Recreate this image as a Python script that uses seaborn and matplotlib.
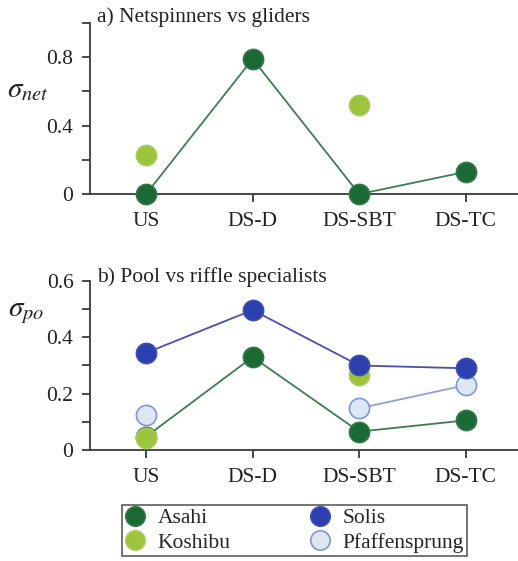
import matplotlib
matplotlib.use("Agg")
import matplotlib.pyplot as plt
from matplotlib.lines import Line2D
import seaborn as sns
import pandas as pd
import numpy as np

# sites along the river
sites = ["US", "DS-D", "DS-SBT", "DS-TC"]

# a) netspinners vs gliders
net_asahi = [0.0, 0.79, 0.0, 0.13]
net_koshibu = [0.23, np.nan, 0.52, np.nan]

# b) pool vs riffle specialists
po_asahi = [0.047, 0.33, 0.065, 0.105]
po_koshibu = [0.042, np.nan, 0.265, np.nan]
po_solis = [0.345, 0.497, 0.30, 0.29]
po_pfaff = [0.124, np.nan, 0.148, 0.23]
# Pfaffensprung line only joins the downstream sites
po_pfaff_line = [np.nan, np.nan, 0.148, 0.23]

colors = {
    "Asahi": "#1b6a35",
    "Koshibu": "#9cc43d",
    "Solis": "#2c3fae",
    "Pfaffensprung": "#dde6f3",
}
edges = {
    "Asahi": "#2f7a45",
    "Koshibu": "#a9cc55",
    "Solis": "#3c4fb8",
    "Pfaffensprung": "#7d98d2",
}
line_colors = {
    "Asahi": "#3f7d50",
    "Solis": "#4a4eb4",
    "Pfaffensprung": "#8aa2da",
}


def frame(values):
    df = pd.DataFrame({"site": sites, "x": range(len(sites)), "value": values})
    return df.dropna()


sns.set_style("ticks")
plt.rcParams["font.family"] = ["Liberation Serif", "DejaVu Serif"]
plt.rcParams["mathtext.fontset"] = "stix"

fig = plt.figure(figsize=(5.18, 5.61), dpi=100)
ax1 = fig.add_axes([0.174, 0.654, 0.826, 0.305])
ax2 = fig.add_axes([0.174, 0.198, 0.826, 0.301])

ms = 14.5
fs = 15.5


def points(ax, values, name, z):
    df = frame(values)
    sns.scatterplot(data=df, x="x", y="value", ax=ax, s=ms ** 2,
                    color=colors[name], edgecolor=edges[name], linewidth=1.2,
                    zorder=z, clip_on=False, legend=False)


def line(ax, values, name, z):
    df = frame(values)
    sns.lineplot(data=df, x="x", y="value", ax=ax, color=line_colors[name],
                 linewidth=1.3, zorder=z - 0.5, legend=False)


# panel a
line(ax1, net_asahi, "Asahi", 3)
points(ax1, net_asahi, "Asahi", 3)
points(ax1, net_koshibu, "Koshibu", 4)

# panel b
line(ax2, po_asahi, "Asahi", 3)
points(ax2, po_asahi, "Asahi", 3)
points(ax2, po_koshibu, "Koshibu", 4)
line(ax2, po_pfaff_line, "Pfaffensprung", 5)
points(ax2, po_pfaff, "Pfaffensprung", 5)
line(ax2, po_solis, "Solis", 6)
points(ax2, po_solis, "Solis", 6)

spine_col = "#3a3a3a"
for ax, ylim, major, minor in [
    (ax1, (0, 1.0), [0, 0.4, 0.8], [0.2, 0.6, 1.0]),
    (ax2, (0, 0.6), [0, 0.2, 0.4, 0.6], [0.1, 0.3, 0.5]),
]:
    ax.set_xlim(-0.525, 3.49)
    ax.set_ylim(*ylim)
    ax.set_xticks(range(len(sites)))
    ax.set_xticklabels(sites)
    ax.set_yticks(major)
    ax.set_yticklabels(["0" if v == 0 else f"{v:.1f}" for v in major])
    ax.set_yticks(minor, minor=True)
    ax.set_xlabel("")
    ax.set_ylabel("")
    sns.despine(ax=ax)
    for s in ["left", "bottom"]:
        ax.spines[s].set_color(spine_col)
        ax.spines[s].set_linewidth(1.3)
    ax.tick_params(axis="both", which="both", direction="out", length=6,
                   width=1.3, color=spine_col, labelsize=fs, labelcolor="#222222")
    ax.tick_params(axis="x", pad=7)
    ax.tick_params(axis="y", pad=6)

ax1.text(0.016, 1.035, "a) Netspinners vs gliders", transform=ax1.transAxes,
         fontsize=fs, va="center", ha="left", color="#222222")
ax2.text(0.016, 1.025, "b) Pool vs riffle specialists", transform=ax2.transAxes,
         fontsize=fs, va="center", ha="left", color="#222222")

ax1.text(-0.145, 0.61, r"$\sigma_{net}$", transform=ax1.transAxes,
         fontsize=21, va="center", ha="center", color="#222222")
ax2.text(-0.15, 0.81, r"$\sigma_{po}$", transform=ax2.transAxes,
         fontsize=21, va="center", ha="center", color="#222222")

# legend
handles = []
for name in ["Asahi", "Koshibu", "Solis", "Pfaffensprung"]:
    handles.append(Line2D([], [], marker="o", linestyle="none", markersize=14,
                          markerfacecolor=colors[name], markeredgecolor=edges[name],
                          markeredgewidth=1.2, label=name))
leg = fig.legend(handles=handles, loc="lower left", bbox_to_anchor=(0.236, 0.009),
                 borderaxespad=0, ncol=2, fontsize=fs, frameon=True, fancybox=False,
                 handletextpad=0.6, columnspacing=3.7, labelspacing=0.2,
                 borderpad=0.15, handlelength=0.9, edgecolor="#333333")
leg.get_frame().set_linewidth(1.2)

fig.savefig("out.png", dpi=100, facecolor="white")
